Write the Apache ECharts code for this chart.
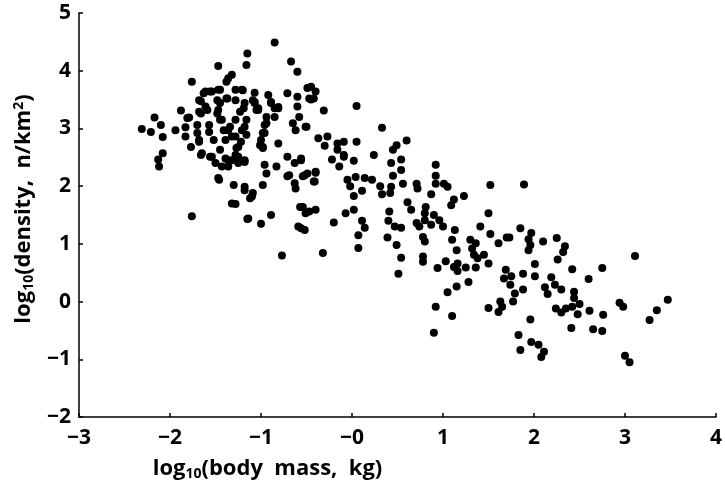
<!DOCTYPE html>
<html>
<head>
<meta charset="utf-8">
<script src="https://cdn.jsdelivr.net/npm/echarts@6/dist/echarts.min.js"></script>
<style>html,body{margin:0;padding:0;background:#fff;}#c{width:725px;height:491px;}</style>
</head>
<body>
<div id="c"></div>
<script>
// log10(body mass, kg)
const bodyMass = [
-0.85,-1.15,-1.16,-1.47,-0.67,-0.60,-1.76,-1.36,-1.32,-1.07,-2.31,-2.17,-2.10,-2.21,-2.08,-2.08,-2.13,-2.12,-1.94,-1.88,
-1.83,-1.79,-1.83,-1.77,-1.68,-1.66,-1.70,-1.57,-1.66,-1.68,-1.63,-1.56,-1.47,-1.59,-1.48,-1.43,-1.36,-1.39,-1.45,-1.54,
-1.50,-1.43,-1.36,-1.28,-1.25,-1.18,-1.47,-1.30,-1.18,-1.09,-1.25,-1.28,-1.21,-1.16,-1.19,-1.28,-1.38,-1.45,-1.21,-1.28,
-1.07,-1.03,-0.92,-0.89,-0.81,-0.85,-0.94,-0.96,-1.00,-0.98,-0.81,-0.71,-0.60,-0.60,-0.49,-0.47,-0.58,-0.65,-0.51,-0.62,
-0.71,-0.56,-0.63,-0.96,-0.94,-0.98,-0.83,-0.71,-0.63,-0.54,-0.49,
-1.38,-1.61,-1.54,-1.45,-1.20,-1.66,-1.61,-1.48,-1.37,-1.47,-1.68,-1.81,-1.45,-1.41,-1.34,-1.28,-1.23,-1.18,-1.09,-1.03,
-1.18,-1.16,-1.22,-1.27,-1.32,-1.52,-1.57,-1.70,-1.68,-1.65,-1.56,-1.36,-1.39,-1.32,-1.25,-1.18,-0.89,-0.85,-0.81,-0.94,
-0.96,-0.98,-1.01,-0.98,-1.07,-1.05,
-1.46,-0.69,-0.62,-0.52,-0.40,-0.42,-0.50,-0.45,-0.45,-0.09,-1.18,-1.10,-0.47,-1.14,-0.56,-0.54,-0.56,
-0.40,-0.42,-0.31,0.05,0.33,-0.37,-0.27,-0.30,-0.16,-0.09,-0.16,-0.09,0.05,-0.22,-0.14,0.02,0.24,0.45,0.49,0.60,
0.54,0.43,0.54,0.45,-0.40,-0.41,-0.05,0.04,0.14,0.22,-0.02,0.11,0.02,0.31,0.33,0.43,0.42,0.56,0.71,0.72,0.87,
0.92,0.92,0.92,1.01,1.05,1.23,1.52,1.12,
-0.40,-0.20,-0.07,0.02,0.11,0.14,0.07,0.07,-0.32,0.41,0.40,0.47,0.54,0.39,0.49,0.54,0.51,0.61,0.65,0.81,
0.80,0.71,0.80,0.90,0.96,1.00,0.87,0.78,0.80,0.78,0.78,1.09,1.13,1.10,1.15,0.94,1.03,1.12,1.16,1.16,
1.25,1.36,1.28,1.15,1.05,0.92,1.10,0.90,1.50,1.41,1.52,1.30,1.36,1.32,1.34,1.45,1.50,1.50,1.38,0.74,
1.89,1.85,1.97,1.70,1.73,1.61,1.94,1.96,1.94,2.10,2.25,2.34,2.32,2.26,2.01,2.01,1.88,1.69,1.67,1.75,
1.74,1.79,1.77,1.88,1.63,1.65,1.61,1.96,1.83,1.85,1.97,2.05,2.11,2.08,2.19,2.23,2.12,2.15,2.30,2.44,
2.44,2.50,2.42,2.35,2.24,2.30,2.48,2.41,2.42,2.60,2.75,2.61,2.76,2.65,2.75,3.11,2.94,2.98,3.27,3.35,
3.47,3.00,3.05,
-1.76,-1.28,-1.32,-1.12,-1.15,-1.00,-0.89,-0.77,-0.57,-0.51,-0.59,-0.52
];
// log10(density, n/km2)
const density = [
4.49,4.30,4.10,4.08,4.16,3.98,3.81,3.87,3.93,3.62,2.99,3.19,3.06,2.94,2.85,2.57,2.46,2.34,2.97,3.31,
3.02,3.19,2.86,2.68,2.80,2.54,3.06,3.06,3.26,3.49,3.61,3.64,3.67,3.32,3.26,3.15,2.97,2.80,2.63,2.51,
2.40,2.34,2.45,2.54,2.40,2.45,2.14,2.02,1.99,1.88,2.68,2.86,2.97,3.15,3.35,3.49,3.52,3.44,3.67,3.67,
3.46,3.32,3.58,3.44,3.35,3.20,3.09,2.92,2.80,2.68,2.74,3.61,3.55,3.38,3.70,3.52,3.20,3.09,3.03,2.97,
2.51,2.48,2.40,2.37,2.22,2.02,2.34,2.17,2.05,2.17,2.22,
3.81,3.64,3.64,3.67,3.66,3.47,3.38,3.49,3.52,3.32,3.29,3.18,3.15,2.97,3.03,3.15,3.29,3.44,3.49,3.35,
3.03,2.89,2.77,2.66,2.86,2.80,2.94,2.92,2.77,2.57,2.51,2.34,2.48,2.45,2.51,2.42,3.46,3.35,3.37,3.20,
3.06,2.92,2.71,2.66,3.44,3.32,
2.11,2.19,1.96,2.19,2.25,2.08,3.03,3.72,3.50,2.54,1.93,1.82,1.56,1.44,2.45,1.64,1.27,
3.64,3.52,3.31,3.39,3.01,2.83,2.86,2.70,2.74,2.77,2.63,2.51,2.77,2.46,2.34,2.44,2.54,2.63,2.71,2.79,
2.46,2.40,2.28,2.18,2.23,2.08,2.11,2.16,2.14,2.11,2.00,1.92,1.83,2.00,1.86,1.99,1.88,2.04,2.04,1.96,1.86,
2.37,2.18,2.04,2.04,1.99,1.83,2.02,1.77,
1.59,1.37,1.53,1.59,1.40,1.28,1.15,0.93,0.84,1.56,1.40,1.30,1.28,1.11,0.98,0.76,0.48,1.72,1.59,1.64,
1.53,1.36,1.41,1.50,1.41,1.30,1.33,1.12,1.04,0.78,0.69,1.67,1.24,1.07,0.89,0.58,0.70,0.60,0.66,0.53,
0.59,0.59,0.34,0.26,0.16,-0.09,-0.25,-0.54,1.53,1.30,1.17,1.07,1.01,0.92,0.81,0.81,0.66,-0.11,0.75,1.30,
2.03,1.27,1.19,1.11,1.11,1.01,1.08,0.98,0.89,1.04,1.10,0.96,0.86,0.73,0.65,0.44,0.48,0.55,0.40,0.44,
0.29,0.14,0.00,0.21,0.00,-0.09,-0.18,-0.31,-0.58,-0.84,-0.70,-0.75,-0.87,-0.96,0.42,0.29,0.25,0.13,0.21,0.17,
0.06,-0.04,-0.09,-0.12,-0.12,-0.19,-0.22,-0.46,0.56,0.39,0.58,-0.16,-0.23,-0.48,-0.51,0.79,-0.02,-0.09,-0.32,-0.15,
0.03,-0.94,-1.05,
1.48,1.69,1.70,1.79,1.43,1.35,1.50,0.80,1.64,1.53,1.30,1.24
];
const xTickLabels = {'-3':'\u22123','-2':'\u22122','-1':'\u22121','0':'\u22120','1':'1','2':'2','3':'3','4':'4'};
const yTickLabels = {'-2':'\u22122','-1':'\u22121','0':'0','1':'1','2':'2','3':'3','4':'4','5':'5'};

const points = [];
const n = Math.min(bodyMass.length, density.length);
for (let i = 0; i < n; i++) points.push([bodyMass[i], density[i]]);

const FONT = 'Open Sans';
const axisCommon = {
  type: 'value',
  axisLine: { show: true, onZero: false, lineStyle: { color: '#000', width: 1.5 } },
  axisTick: { show: true, inside: true, length: 4, lineStyle: { color: '#000', width: 1.5 } },
  splitLine: { show: false },
};
const rich = {
  a: { fontFamily: FONT, fontWeight: 'bold', fontSize: 22, color: '#000' },
  sub: { fontFamily: FONT, fontWeight: 'bold', fontSize: 14, color: '#000', verticalAlign: 'bottom', padding: [10, 0, 0, 0] },
  sup: { fontFamily: FONT, fontWeight: 'bold', fontSize: 14, color: '#000', verticalAlign: 'top', padding: [0, 0, 8, 0] }
};
const tickFont = { color: '#000', fontFamily: FONT, fontWeight: 'bold', fontSize: 21 };
const chart = echarts.init(document.getElementById('c'), null, { renderer: 'canvas' });
chart.setOption({
  animation: false,
  backgroundColor: '#fff',
  grid: { left: 79, right: 1, top: 13, bottom: 74, containLabel: false },
  xAxis: Object.assign({}, axisCommon, {
    min: -3, max: 4, interval: 1,
    axisLabel: Object.assign({ margin: 11, formatter: v => xTickLabels[String(v)] ?? String(v) }, tickFont),
    name: '{a|log}{sub|10}{a|(body  mass,  kg)}',
    nameLocation: 'middle', nameGap: 40,
    nameTextStyle: { rich: rich, padding: [0, 260, 0, 0] }
  }),
  yAxis: Object.assign({}, axisCommon, {
    min: -2, max: 5, interval: 1,
    axisLabel: Object.assign({ margin: 8, formatter: v => yTickLabels[String(v)] ?? String(v) }, tickFont),
    name: '{a|log}{sub|10}{a|(density,  n/km}{sup|2}{a|)}',
    nameLocation: 'middle', nameGap: 42,
    nameTextStyle: { rich: rich, padding: [0, 0, 0, 12] }
  }),
  series: [{
    type: 'scatter',
    data: points,
    symbol: 'circle',
    symbolSize: 8,
    itemStyle: { color: '#000', opacity: 1 },
    clip: false
  }]
});
</script>
</body>
</html>
